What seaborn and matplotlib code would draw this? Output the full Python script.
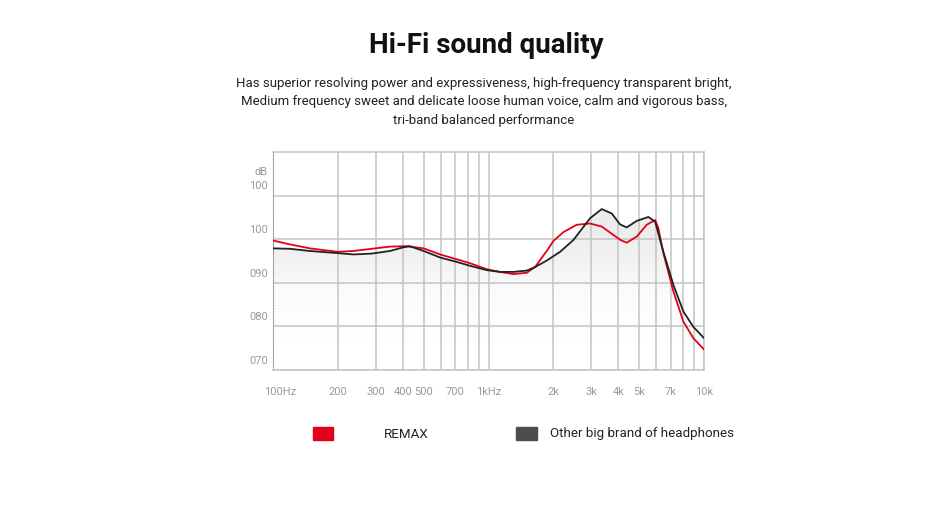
import numpy as np
import pandas as pd
import matplotlib
matplotlib.use("Agg")
import matplotlib.pyplot as plt
from matplotlib.patches import Rectangle
from matplotlib.colors import LinearSegmentedColormap
import seaborn as sns

# frequency response (Hz, dB)
remax_freq = [100, 120, 148, 200, 236, 287, 349, 417, 500, 596, 711, 820, 982, 1130,
              1303, 1503, 1643, 1862, 2000, 2222, 2565, 2958, 3350, 3790, 4100, 4376,
              4872, 5420, 5930, 6140, 6476, 7210, 8020, 8920, 10000]
remax_db = [99.7, 98.8, 97.9, 97.1, 97.3, 97.8, 98.3, 98.4, 97.9, 96.5, 95.4, 94.5, 93.1, 92.5,
            92.0, 92.3, 93.6, 97.3, 99.6, 101.6, 103.3, 103.6, 102.9, 101.0, 99.8, 99.2,
            100.6, 103.3, 104.4, 102.5, 96.8, 88.0, 81.1, 77.3, 74.7]

other_freq = [100, 120, 148, 200, 236, 287, 349, 400, 430, 500, 596, 711, 820, 982, 1130,
              1303, 1503, 1643, 1862, 2147, 2475, 2958, 3350, 3730, 4075, 4376, 4872,
              5519, 5930, 6476, 7210, 8020, 8920, 10000]
other_db = [97.9, 97.8, 97.3, 96.8, 96.5, 96.7, 97.3, 98.1, 98.4, 97.3, 95.8, 94.8, 93.9, 92.9, 92.5,
            92.5, 92.8, 93.6, 95.1, 97.1, 99.8, 104.8, 106.9, 105.9, 103.4, 102.7, 104.2,
            105.1, 104.0, 97.1, 89.5, 83.4, 79.9, 77.3]

x_ticks = [100, 200, 300, 400, 500, 700, 1000, 2000, 3000, 4000, 5000, 7000, 10000]
x_labels = ["100Hz", "200", "300", "400", "500", "700", "1kHz", "2k", "3k", "4k", "5k", "7k", "10k"]
y_ticks = [70, 80, 90, 100, 110]
y_labels = ["070", "080", "090", "100", "100"]

series = ["REMAX", "Other big brand of headphones"]
colors = ["#e2001a", "#222222"]

df = pd.concat([
    pd.DataFrame({"freq": remax_freq, "db": remax_db, "brand": series[0]}),
    pd.DataFrame({"freq": other_freq, "db": other_db, "brand": series[1]}),
])

sns.set_style("white")
plt.rcParams["font.family"] = ["Roboto", "DejaVu Sans"]

fig = plt.figure(figsize=(9.5, 5.21), dpi=100)
ax = fig.add_axes([0.2874, 0.2898, 0.4537, 0.4185])
ax.set_xscale("log")
ax.set_xlim(100, 10000)
ax.set_ylim(70, 120)

# gradient fill under the other brand curve, kept below the grid
poly = ax.fill_between(other_freq, other_db, 70, color="none", lw=0)
cmap = LinearSegmentedColormap.from_list("g", ["#ffffff", "#fcfcfc", "#f0f0f0", "#eaeaea"])
grad = np.linspace(0, 1, 256).reshape(-1, 1)
img = ax.imshow(grad, extent=[100, 10000, 76, 108], origin="lower", aspect="auto",
                cmap=cmap, zorder=0.1)
img.set_clip_path(poly.get_paths()[0], ax.transData)
ax.set_xscale("log")
ax.set_xlim(100, 10000)
ax.set_ylim(70, 120)

sns.lineplot(data=df, x="freq", y="db", hue="brand", palette=colors, ax=ax,
             linewidth=1.3, legend=False, zorder=3, sort=False)

# grid
ax.set_xticks([t for t in range(200, 1000, 100)] + [t for t in range(1000, 10000, 1000)], minor=True)
ax.set_xticks([100, 1000, 10000])
ax.set_yticks(y_ticks)
ax.grid(True, which="both", axis="x", color="#c4c4c4", lw=1.1)
ax.grid(True, which="major", axis="y", color="#c4c4c4", lw=1.1)
ax.set_axisbelow(True)
ax.tick_params(which="both", length=0, labelbottom=False, labelleft=False)
ax.set_xlabel("")
ax.set_ylabel("")
for s in ["top", "right", "bottom"]:
    ax.spines[s].set_color("#c4c4c4")
    ax.spines[s].set_linewidth(1.1)
ax.spines["left"].set_color("#9a9a9a")
ax.spines["left"].set_linestyle((0, (1, 1.5)))

lbl = "#9a9a9a"
for t, s in zip(x_ticks, x_labels):
    ax.text(t * (1.08 if t == 100 else 1), -0.1, s, transform=ax.get_xaxis_transform(),
            ha="center", va="center", fontsize=8, color=lbl)
for t, s in zip(y_ticks, y_labels):
    ax.text(-0.012, t + 2.1, s, transform=ax.get_yaxis_transform(), ha="right", va="center",
            fontsize=8, color=lbl)
ax.text(-0.012, 115.4, "dB", transform=ax.get_yaxis_transform(), ha="right", va="center",
        fontsize=8, color=lbl)

# titles
fig.text(0.512, 0.912, "Hi-Fi sound quality", ha="center", va="center", fontsize=20,
         fontweight="bold", color="#111111")
sub = ("Has superior resolving power and expressiveness, high-frequency transparent bright,\n"
       "Medium frequency sweet and delicate loose human voice, calm and vigorous bass,\n"
       "tri-band balanced performance")
fig.text(0.5095, 0.805, sub, ha="center", va="center", fontsize=9.5, color="#222222",
         linespacing=1.55)

# legend
fig.patches.append(Rectangle((313 / 950, 1 - 440 / 521), 20 / 950, 13 / 521,
                             transform=fig.transFigure, color=colors[0]))
fig.patches.append(Rectangle((516 / 950, 1 - 440 / 521), 21 / 950, 13 / 521,
                             transform=fig.transFigure, color="#4d4d4d"))
fig.text(384 / 950, 1 - 434 / 521, series[0], ha="left", va="center", fontsize=9.6, color="#222222")
fig.text(550 / 950, 1 - 434 / 521, series[1], ha="left", va="center", fontsize=9.6, color="#222222")

fig.savefig("out.png", dpi=100, facecolor="white")
